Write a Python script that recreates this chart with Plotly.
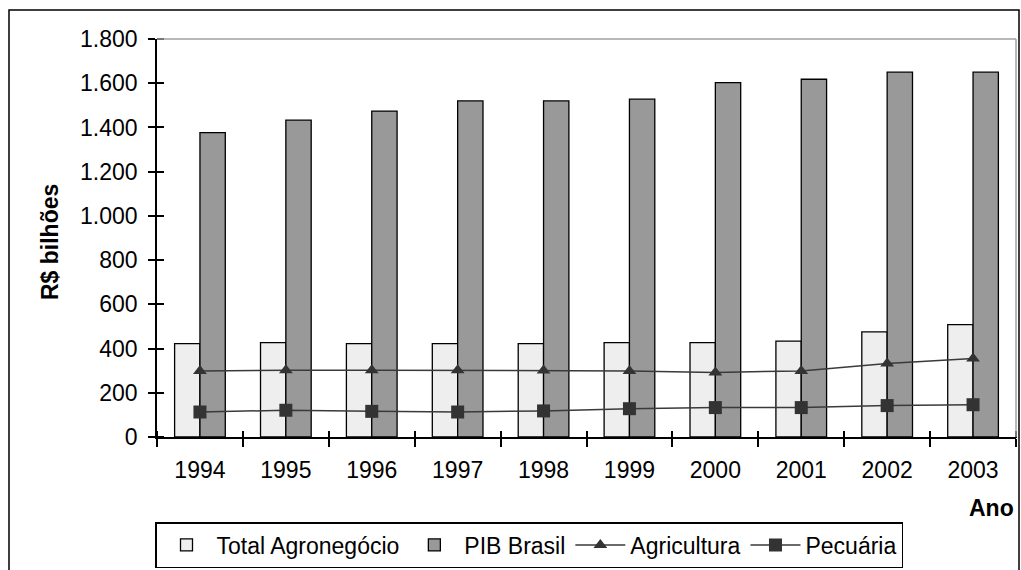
import plotly.graph_objects as go

years = ["1994", "1995", "1996", "1997", "1998", "1999", "2000", "2001", "2002", "2003"]
total_agro = [422, 427, 422, 422, 422, 427, 427, 434, 475, 508]
pib_brasil = [1377, 1433, 1474, 1520, 1520, 1528, 1603, 1618, 1650, 1650]
agricultura = [298, 302, 302, 302, 301, 299, 292, 299, 332, 355]
pecuaria = [113, 121, 116, 113, 118, 128, 133, 133, 142, 146]
y_ticks = [0, 200, 400, 600, 800, 1000, 1200, 1400, 1600, 1800]

FONT = "Liberation Sans, Arial, sans-serif"
FS = 23
W, H = 1021, 570
L, R, T, B = 157, 5, 39, 133
pw, ph = W - L - R, H - T - B
TICK_IN = 7  # length of the part of the ticks that crosses into the plot

def px_x(p):
    return (p - L) / pw

def px_y(p):
    return (H - B - p) / ph

fig = go.Figure()
fig.add_trace(go.Bar(x=years, y=total_agro, name="Total Agronegócio",
                     marker=dict(color="#eeeeee", line=dict(color="#000000", width=1.3))))
fig.add_trace(go.Bar(x=years, y=pib_brasil, name="PIB Brasil",
                     marker=dict(color="#999999", line=dict(color="#000000", width=1.3))))
fig.add_trace(go.Scatter(x=years, y=agricultura, name="Agricultura", mode="lines+markers",
                         line=dict(color="#3a3a3a", width=1.5),
                         marker=dict(symbol="triangle-up", size=12, color="#333333")))
fig.add_trace(go.Scatter(x=years, y=pecuaria, name="Pecuária", mode="lines+markers",
                         line=dict(color="#3a3a3a", width=1.5),
                         marker=dict(symbol="square", size=13, color="#333333")))
# helper trace for the overlay axes (inner half of the crossing ticks)
fig.add_trace(go.Bar(x=years, y=pecuaria, xaxis="x2", yaxis="y2",
                     marker=dict(opacity=0), showlegend=False, hoverinfo="skip"))

fig.update_layout(
    width=W, height=H,
    margin=dict(l=L, r=R, t=T, b=B, autoexpand=False),
    paper_bgcolor="white", plot_bgcolor="white",
    separators=",.",
    font=dict(family=FONT, size=FS, color="#000000"),
    barmode="group", bargap=0.41, bargroupgap=0,
    showlegend=True,
    legend=dict(orientation="h", x=px_x(529), xanchor="center", y=px_y(545), yanchor="middle",
                bordercolor="#000000", borderwidth=1.5, font=dict(size=23, family=FONT),
                itemwidth=50, tracegroupgap=0, bgcolor="white"),
    xaxis=dict(type="category", categoryorder="array", categoryarray=years,
               range=[-0.5, 9.5],
               showline=True, linecolor="#000000", linewidth=1.5,
               ticks="outside", ticklen=8, tickwidth=1.5, tickcolor="#000000",
               tickson="boundaries", showgrid=False, zeroline=False,
               ticklabelstandoff=12, tickfont=dict(size=FS)),
    yaxis=dict(range=[0, 1800], tickvals=y_ticks, tickformat=",d",
               showline=True, linecolor="#000000", linewidth=1.5,
               ticks="outside", ticklen=7, tickwidth=1.5, tickcolor="#000000",
               showgrid=False, zeroline=False, ticklabelstandoff=6, tickfont=dict(size=FS)),
    xaxis2=dict(type="category", categoryorder="array", categoryarray=years, overlaying="x",
                range=[-0.5, 9.5], anchor="free", position=TICK_IN / ph, side="bottom",
                ticks="outside", ticklen=TICK_IN, tickwidth=1.5, tickcolor="#000000",
                tickson="boundaries", showticklabels=False, showline=False, showgrid=False,
                zeroline=False),
    yaxis2=dict(range=[0, 1800], tickvals=y_ticks, overlaying="y", anchor="free",
                position=TICK_IN / pw, side="left", ticks="outside", ticklen=TICK_IN,
                tickwidth=1.5, tickcolor="#000000", showticklabels=False, showline=False,
                showgrid=False, zeroline=False),
    shapes=[
        dict(type="line", xref="paper", yref="paper", x0=0, x1=1, y0=1, y1=1,
             line=dict(color="#a0a0a0", width=1.5)),
        dict(type="line", xref="paper", yref="paper", x0=1, x1=1, y0=0, y1=1,
             line=dict(color="#a0a0a0", width=1.5)),
        dict(type="rect", xref="paper", yref="paper", x0=px_x(9), x1=px_x(1019),
             y0=px_y(580), y1=px_y(10), line=dict(color="#000000", width=1.5), layer="below"),
    ],
    annotations=[
        dict(text="<b>R$ bilhões</b>", xref="paper", yref="paper", x=px_x(50), y=px_y(242),
             textangle=-90, showarrow=False, font=dict(size=FS, family=FONT),
             xanchor="center", yanchor="middle"),
        dict(text="<b>Ano</b>", xref="paper", yref="paper", x=px_x(1016), y=px_y(508),
             showarrow=False, font=dict(size=FS, family=FONT), xanchor="right", yanchor="middle"),
    ],
)

fig.write_html("out.html", config={"displayModeBar": False},
               post_script="document.body.style.margin='0';document.body.style.overflow='hidden';")
